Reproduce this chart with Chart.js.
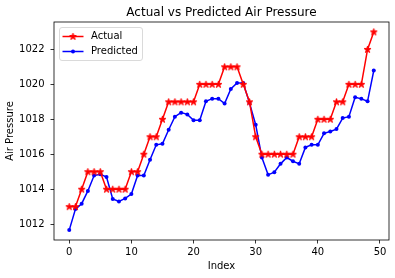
<!DOCTYPE html>
<html lang="en">
<head>
    <meta charset="UTF-8">
    <title>Actual vs Predicted Air Pressure</title>
    <script src="https://cdn.jsdelivr.net/npm/chart.js"></script>
    <style>
        html, body { margin: 0; padding: 0; background: #fff; }
        #wrap { width: 395px; height: 278px; }
    </style>
</head>
<body>
    <div id="wrap"><canvas id="pressureChart" width="395" height="278"></canvas></div>

    <script>
        // datos
        const indices = Array.from({ length: 50 }, (_, i) => i);
        const actual = [1013, 1013, 1014, 1015, 1015, 1015, 1014, 1014, 1014, 1014,
                        1015, 1015, 1016, 1017, 1017, 1018, 1019, 1019, 1019, 1019,
                        1019, 1020, 1020, 1020, 1020, 1021, 1021, 1021, 1020, 1019,
                        1017, 1016, 1016, 1016, 1016, 1016, 1016, 1017, 1017, 1017,
                        1018, 1018, 1018, 1019, 1019, 1020, 1020, 1020, 1022, 1023];
        const predicted = [1011.66, 1012.86, 1013.17, 1013.9, 1014.78, 1014.86, 1014.7, 1013.44, 1013.3, 1013.47,
                           1013.72, 1014.78, 1014.78, 1015.68, 1016.54, 1016.6, 1017.4, 1018.15, 1018.38, 1018.28,
                           1017.94, 1017.94, 1019.03, 1019.18, 1019.18, 1018.9, 1019.74, 1020.08, 1020.08, 1018.94,
                           1017.69, 1015.81, 1014.82, 1014.97, 1015.45, 1015.81, 1015.6, 1015.45, 1016.39, 1016.54,
                           1016.54, 1017.2, 1017.3, 1017.44, 1018.07, 1018.15, 1019.26, 1019.17, 1019.03, 1020.79];
        const xTicks = [0, 10, 20, 30, 40, 50];
        const yTicks = [1012, 1014, 1016, 1018, 1020, 1022];
        const chartTitle = 'Actual vs Predicted Air Pressure';

        // margenes del 5% como matplotlib
        const allY = actual.concat(predicted);
        const yLo = Math.min(...allY), yHi = Math.max(...allY);
        const yPad = (yHi - yLo) * 0.05;
        const xPad = (indices[indices.length - 1] - indices[0]) * 0.05;

        // marcador estrella (como '*' de matplotlib)
        function makeStar(color) {
            const c = document.createElement('canvas');
            c.width = 11; c.height = 11;
            const g = c.getContext('2d');
            const R = 3.6, r = R * 0.382;
            g.beginPath();
            for (let k = 0; k < 10; k++) {
                const rad = k % 2 === 0 ? R : r;
                const a = -Math.PI / 2 + k * Math.PI / 5;
                g.lineTo(5.5 + rad * Math.cos(a), 5.7 + rad * Math.sin(a));
            }
            g.closePath();
            g.fillStyle = color; g.strokeStyle = color; g.lineWidth = 1;
            g.fill(); g.stroke();
            return c;
        }
        const star = makeStar('#ff0000');

        Chart.defaults.font.family = 'DejaVu Sans';
        Chart.defaults.color = '#000';

        // marco, titulo y leyenda estilo matplotlib
        const framePlugin = {
            id: 'frame',
            afterDraw(chart) {
                const { ctx, chartArea: a } = chart;
                ctx.save();
                ctx.strokeStyle = '#000';
                ctx.lineWidth = 0.8;
                ctx.strokeRect(a.left, a.top, a.right - a.left, a.bottom - a.top);

                // titulo centrado sobre el area de ejes
                ctx.fillStyle = '#000';
                ctx.font = '12px "DejaVu Sans"';
                ctx.textAlign = 'center';
                ctx.textBaseline = 'middle';
                ctx.fillText(chartTitle, (a.left + a.right) / 2, a.top - 9);

                // leyenda
                const bx = a.left + 5.5, by = a.top + 5.5, bw = 83, bh = 33;
                ctx.beginPath();
                ctx.roundRect(bx, by, bw, bh, 2.5);
                ctx.fillStyle = 'rgba(255,255,255,0.8)';
                ctx.fill();
                ctx.strokeStyle = '#d0d0d0';
                ctx.lineWidth = 0.8;
                ctx.stroke();

                const items = chart.data.datasets;
                items.forEach((ds, i) => {
                    const y = by + 9 + i * 15;
                    ctx.strokeStyle = ds.borderColor;
                    ctx.lineWidth = 1.5;
                    ctx.beginPath();
                    ctx.moveTo(bx + 3, y);
                    ctx.lineTo(bx + 24, y);
                    ctx.stroke();
                    if (ds.pointStyle === 'circle') {
                        ctx.fillStyle = ds.borderColor;
                        ctx.beginPath();
                        ctx.arc(bx + 13.5, y, 2, 0, Math.PI * 2);
                        ctx.fill();
                    } else {
                        ctx.drawImage(ds.pointStyle, bx + 13.5 - 5.5, y - 5.5);
                    }
                    ctx.fillStyle = '#000';
                    ctx.font = '10px "DejaVu Sans"';
                    ctx.textBaseline = 'middle';
                    ctx.textAlign = 'left';
                    ctx.fillText(ds.label, bx + 31.5, y);
                });
                ctx.restore();
            }
        };

        const ctx = document.getElementById('pressureChart').getContext('2d');
        const chart = new Chart(ctx, {
            type: 'line',
            data: {
                datasets: [{
                    label: 'Actual',
                    data: indices.map((x, i) => ({ x: x, y: actual[i] })),
                    borderColor: '#ff0000',
                    backgroundColor: '#ff0000',
                    borderWidth: 1.5,
                    pointStyle: star,
                    pointRadius: 4,
                    tension: 0
                }, {
                    label: 'Predicted',
                    data: indices.map((x, i) => ({ x: x, y: predicted[i] })),
                    borderColor: '#0000ff',
                    backgroundColor: '#0000ff',
                    borderWidth: 1.5,
                    pointStyle: 'circle',
                    pointRadius: 2,
                    pointBorderWidth: 0,
                    tension: 0
                }]
            },
            options: {
                responsive: false,
                animation: false,
                events: [],
                layout: { padding: { left: 0, right: 6, top: 22, bottom: 0 } },
                plugins: {
                    legend: { display: false },
                    tooltip: { enabled: false },
                    title: { display: false }
                },
                scales: {
                    x: {
                        type: 'linear',
                        min: indices[0] - xPad,
                        max: indices[indices.length - 1] + xPad,
                        afterBuildTicks: s => { s.ticks = xTicks.map(v => ({ value: v })); },
                        afterFit: s => { s.height = 38; },
                        grid: { display: true, drawOnChartArea: false, drawTicks: true, tickLength: 3.5, color: '#000', lineWidth: 0.8 },
                        border: { display: false },
                        ticks: { font: { size: 10 }, padding: 3, maxRotation: 0, callback: v => String(v) },
                        title: { display: true, text: 'Index', font: { size: 10 }, padding: { top: 0, bottom: 6 } }
                    },
                    y: {
                        min: yLo - yPad,
                        max: yHi + yPad,
                        afterBuildTicks: s => { s.ticks = yTicks.map(v => ({ value: v })); },
                        afterFit: s => { s.width = 54; },
                        grid: { display: true, drawOnChartArea: false, drawTicks: true, tickLength: 3.5, color: '#000', lineWidth: 0.8 },
                        border: { display: false },
                        ticks: { font: { size: 10 }, padding: 6, callback: v => String(v) },
                        title: { display: true, text: 'Air Pressure', font: { size: 10 }, padding: { top: 4, bottom: 0 } }
                    }
                }
            },
            plugins: [framePlugin]
        });
    </script>
</body>
</html>
